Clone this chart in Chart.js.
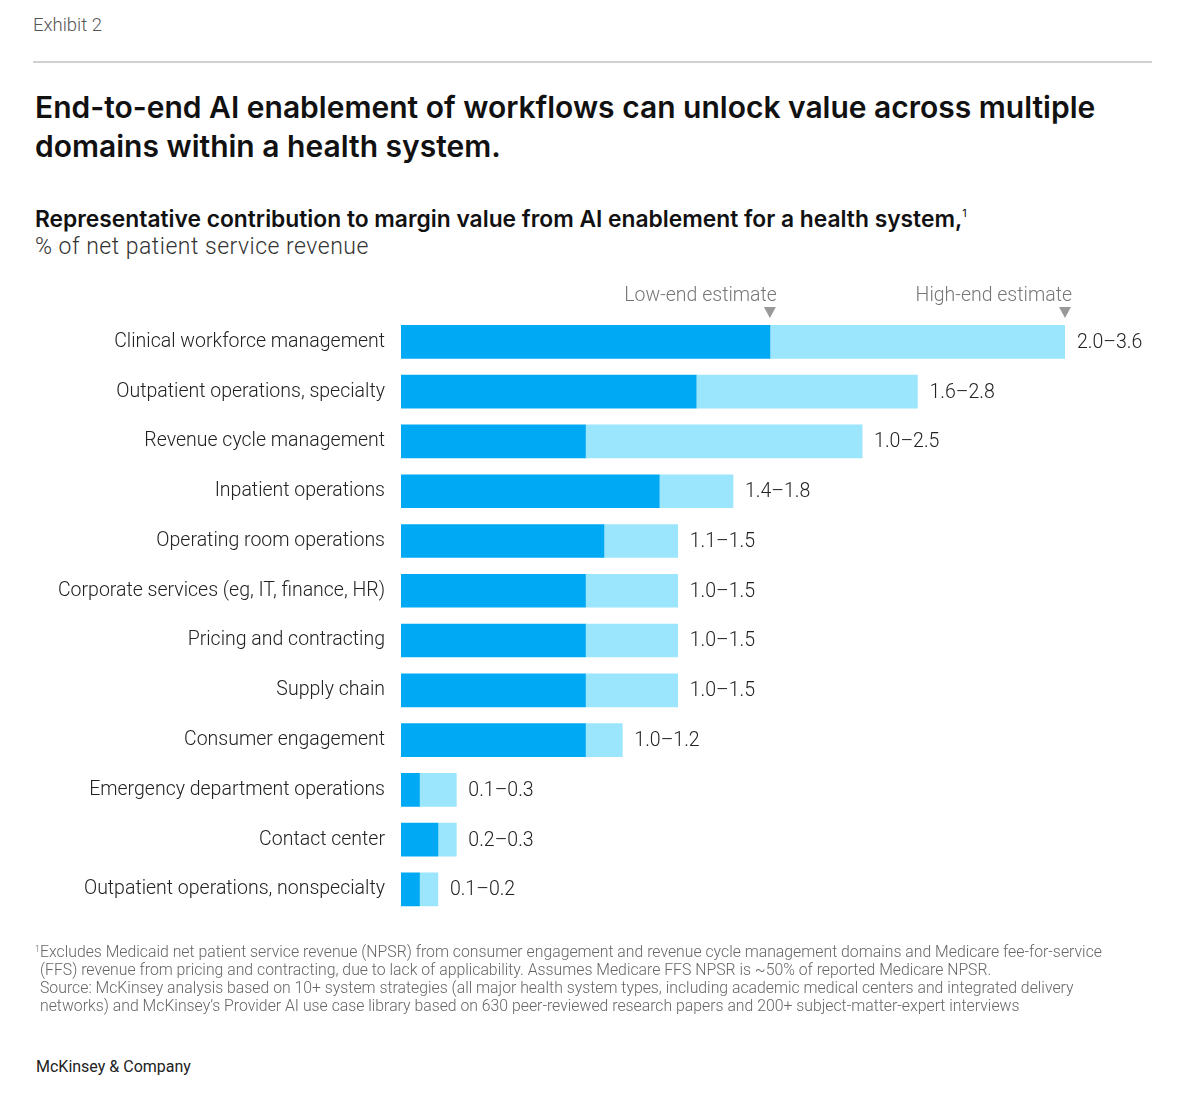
<!DOCTYPE html>
<html lang="en">
<head>
    <meta charset="UTF-8">
    <title>Exhibit 2 - AI enablement value</title>
    <script src="https://cdn.jsdelivr.net/npm/chart.js"></script>
    <style>
        body { margin: 0; background: #fff; font-family: Roboto, "Liberation Sans", sans-serif; color: #222; }
        .page { position: relative; width: 1200px; height: 1103px; }
        .exhibit { position: absolute; left: 33px; top: 14px; font-size: 18.5px; color: #555; font-weight: 300; }
        .rule { position: absolute; left: 33px; top: 61px; width: 1119px; height: 2px; background: #d0d0d0; }
        .title { position: absolute; left: 35px; top: 88px; font-family: Inter, sans-serif; font-weight: 600; font-size: 30px; line-height: 39px; color: #111; }
        .subtitle { position: absolute; left: 35px; top: 205px; font-family: Inter, sans-serif; font-weight: 600; font-size: 22.8px; color: #111; }
        .subtitle sup { font-size: 11px; font-weight: 400; vertical-align: 10px; }
        .unit { position: absolute; left: 35px; top: 233px; font-size: 23px; letter-spacing: 0.5px; color: #333; font-weight: 300; }
        .chart-box { position: absolute; left: 0; top: 270px; width: 1200px; height: 672px; }
        .notes { position: absolute; left: 35px; top: 940px; font-size: 15.8px; line-height: 18px; color: #666; font-weight: 300; }
        .notes div { padding-left: 5px; }
        .notes div:first-child { padding-left: 0; }
        .notes sup { font-size: 9px; vertical-align: 5px; }
        .brand { position: absolute; left: 36px; top: 1057px; font-size: 16px; color: #222; }
    </style>
</head>
<body>
<div class="page">
    <div class="exhibit">Exhibit 2</div>
    <div class="rule"></div>
    <div class="title">End-to-end AI enablement of workflows can unlock value across multiple<br>domains within a health system.</div>
    <div class="subtitle">Representative contribution to margin value from AI enablement for a health system,<sup>1</sup></div>
    <div class="unit">% of net patient service revenue</div>

    <div class="chart-box">
        <canvas id="valueChart" width="1200" height="672"></canvas>
    </div>

    <div class="notes">
        <div><sup>1</sup>Excludes Medicaid net patient service revenue (NPSR) from consumer engagement and revenue cycle management domains and Medicare fee-for-service</div>
        <div>(FFS) revenue from pricing and contracting, due to lack of applicability. Assumes Medicare FFS NPSR is ~50% of reported Medicare NPSR.</div>
        <div>Source: McKinsey analysis based on 10+ system strategies (all major health system types, including academic medical centers and integrated delivery</div>
        <div>networks) and McKinsey’s Provider AI use case library based on 630 peer-reviewed research papers and 200+ subject-matter-expert interviews</div>
    </div>
    <div class="brand">McKinsey &amp; Company</div>
</div>

<script>
    // domains, top to bottom
    const domains = [
        'Clinical workforce management',
        'Outpatient operations, specialty',
        'Revenue cycle management',
        'Inpatient operations',
        'Operating room operations',
        'Corporate services (eg, IT, finance, HR)',
        'Pricing and contracting',
        'Supply chain',
        'Consumer engagement',
        'Emergency department operations',
        'Contact center',
        'Outpatient operations, nonspecialty'
    ];
    // % of net patient service revenue
    const lowEnd  = [2.0, 1.6, 1.0, 1.4, 1.1, 1.0, 1.0, 1.0, 1.0, 0.1, 0.2, 0.1];
    const highEnd = [3.6, 2.8, 2.5, 1.8, 1.5, 1.5, 1.5, 1.5, 1.2, 0.3, 0.3, 0.2];
    const markerLabels = ['Low-end estimate', 'High-end estimate'];

    const darkBlue = '#00a9f4';
    const lightBlue = '#9be5fd';
    const fontFamily = 'Roboto, "Liberation Sans", sans-serif';

    // extra part between low and high estimate
    const spread = highEnd.map((h, i) => Math.round((h - lowEnd[i]) * 10) / 10);

    const rangeLabels = {
        id: 'rangeLabels',
        afterDatasetsDraw(chart) {
            const ctx = chart.ctx;
            const x = chart.scales.x;
            const y = chart.scales.y;
            ctx.save();
            ctx.font = '300 19.5px ' + fontFamily;
            ctx.fillStyle = '#222';
            ctx.textBaseline = 'middle';
            ctx.textAlign = 'left';
            domains.forEach((d, i) => {
                const px = x.getPixelForValue(highEnd[i]) + 12;
                ctx.fillText(lowEnd[i].toFixed(1) + '–' + highEnd[i].toFixed(1), px, y.getPixelForValue(i) + 1);
            });

            // low / high markers above the first bar
            const cy = y.getPixelForValue(0);
            [lowEnd[0], highEnd[0]].forEach((v, k) => {
                const px = x.getPixelForValue(v);
                ctx.fillStyle = '#999';
                ctx.beginPath();
                ctx.moveTo(px - 6, cy - 35);
                ctx.lineTo(px + 6, cy - 35);
                ctx.lineTo(px, cy - 24);
                ctx.closePath();
                ctx.fill();
                ctx.fillStyle = '#777';
                ctx.textAlign = 'right';
                ctx.textBaseline = 'alphabetic';
                ctx.fillText(markerLabels[k], px + 7, cy - 41);
            });
            ctx.restore();
        }
    };

    new Chart(document.getElementById('valueChart'), {
        type: 'bar',
        data: {
            labels: domains,
            datasets: [
                { label: 'Low-end', data: lowEnd, backgroundColor: darkBlue, barThickness: 33 },
                { label: 'High-end', data: spread, backgroundColor: lightBlue, barThickness: 33 }
            ]
        },
        options: {
            indexAxis: 'y',
            responsive: false,
            animation: false,
            layout: { padding: { top: 47, right: 135, bottom: 16, left: 0 } },
            plugins: { legend: { display: false }, tooltip: { enabled: false } },
            scales: {
                x: { stacked: true, min: 0, max: 3.6, display: false },
                y: {
                    stacked: true,
                    grid: { display: false, drawTicks: false },
                    border: { display: false },
                    ticks: {
                        padding: 16,
                        color: '#222',
                        font: { family: fontFamily, size: 19.5, weight: 300 }
                    },
                    afterFit(scale) { scale.width = 401; }
                }
            }
        },
        plugins: [rangeLabels]
    });
</script>
</body>
</html>
